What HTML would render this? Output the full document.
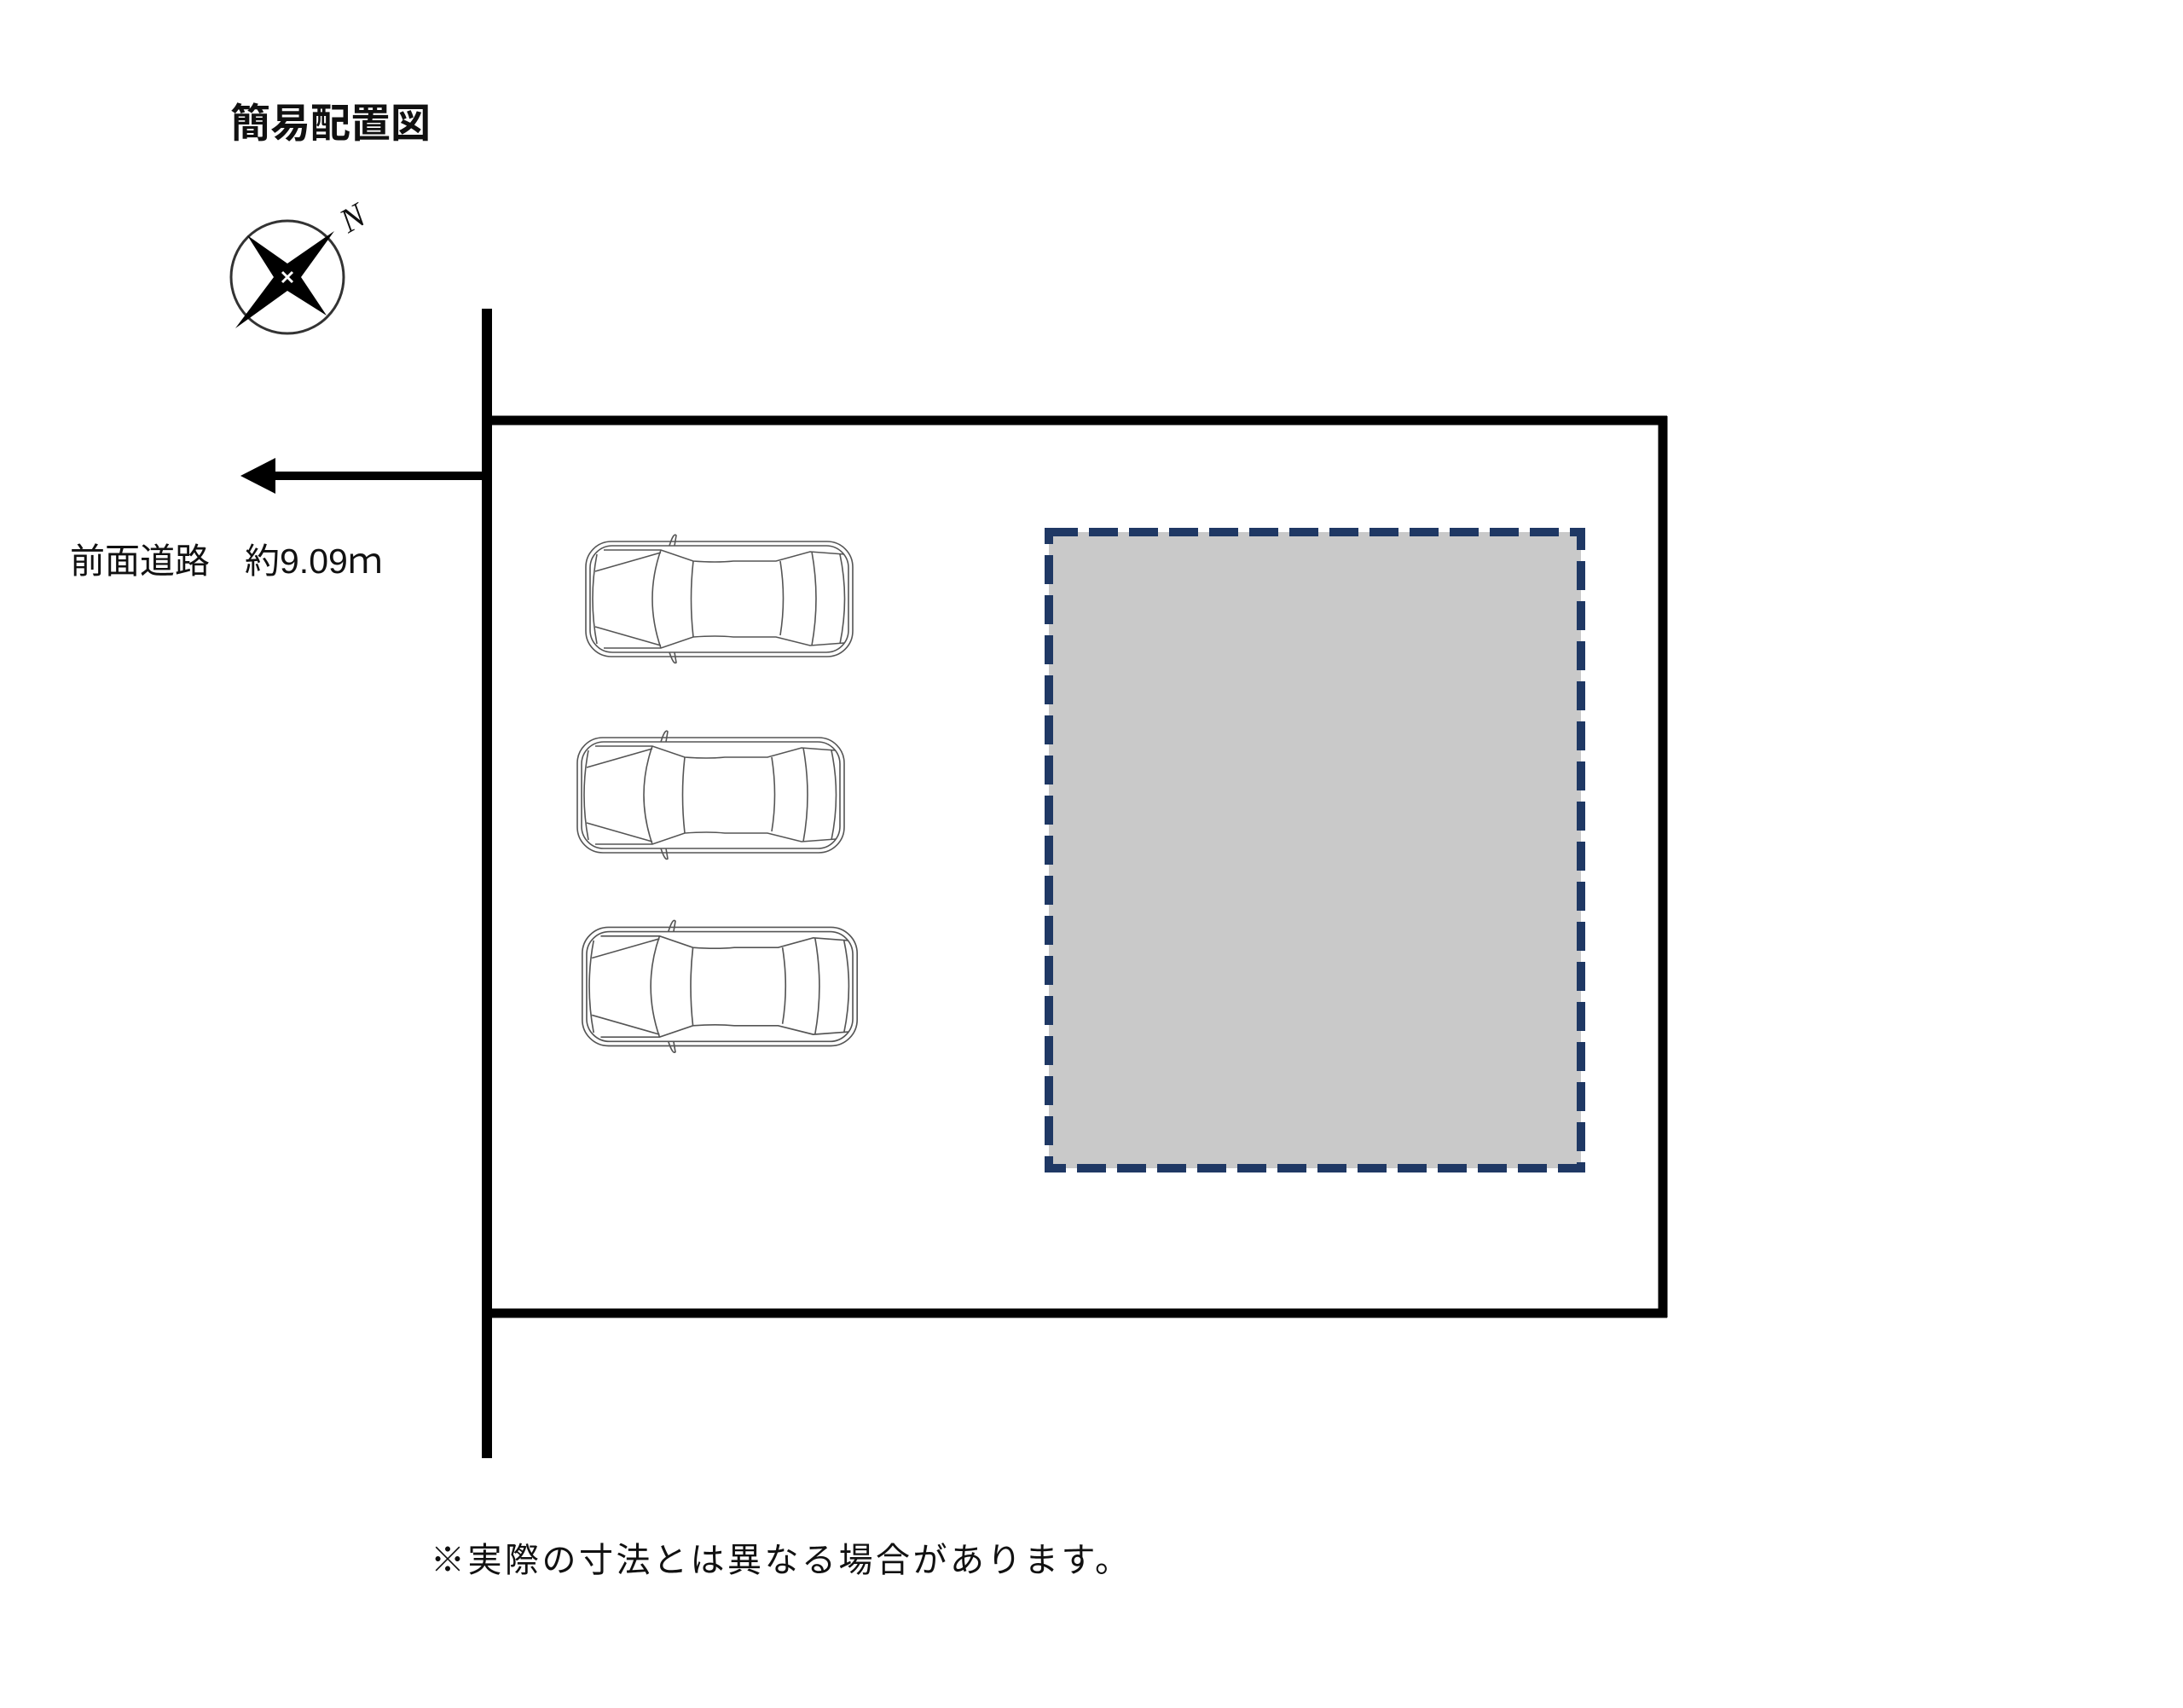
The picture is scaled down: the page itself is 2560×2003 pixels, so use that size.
<!DOCTYPE html>
<html><head><meta charset="utf-8"><style>
html,body{margin:0;padding:0;background:#fff;}
body{width:2560px;height:2003px;position:relative;overflow:hidden;font-family:"Liberation Sans","Noto Sans CJK JP",sans-serif;}
.t{position:absolute;white-space:nowrap;color:#111;}
</style></head><body>
<div class="t" style="left:270px;top:106px;font-size:47px;font-weight:bold;">簡易配置図</div>
<div class="t" style="left:82px;top:624px;font-size:41px;">前面道路　約9.09ｍ</div>
<div class="t" style="left:505px;top:1797px;font-size:40px;letter-spacing:3.5px;">※実際の寸法とは異なる場合があります。</div>
<svg width="2560" height="2003" style="position:absolute;left:0;top:0" xmlns="http://www.w3.org/2000/svg">
<defs>
<g id="car" fill="none" stroke="#555" stroke-width="1.6">
  <rect x="27" y="15" width="313" height="135" rx="30"/>
  <rect x="32" y="20" width="303" height="125" rx="26"/>
  <path d="M125 20 Q130 4 133 8 L131 20 M125 145 Q130 160 133 157 L131 145"/>
  <path d="M48 25 L115 25 L153 38 Q180 40 200 38 L250 38 L290 27 L330 30"/>
  <path d="M48 140 L115 140 L153 127 Q180 125 200 127 L250 127 L290 137 L330 134"/>
  <path d="M38 50 L115 28 M38 115 L115 137"/>
  <path d="M115 25 Q95 82 115 140"/>
  <path d="M153 38 Q148 82 153 127"/>
  <path d="M255 38 Q262 82 255 125"/>
  <path d="M292 27 Q302 82 292 137"/>
  <path d="M40 30 Q30 82 40 135"/>
  <path d="M325 30 Q336 82 325 135"/>
</g>
</defs>
<circle cx="337" cy="325" r="66" fill="none" stroke="#333" stroke-width="3"/>
<polygon points="392,271 353,325 383,370 337,341 276,385 321,325 290,276 337,309" fill="#000"/>
<path d="M331 319 L343 331 M343 319 L331 331" stroke="#fff" stroke-width="3"/>
<text x="400" y="268" font-family="Liberation Serif,serif" font-style="italic" font-size="40" transform="rotate(-30 415 255)" fill="#111">N</text>
<line x1="571" y1="362" x2="571" y2="1710" stroke="#000" stroke-width="12"/>
<line x1="571" y1="493" x2="1955" y2="493" stroke="#000" stroke-width="11"/>
<line x1="1950" y1="488" x2="1950" y2="1545" stroke="#000" stroke-width="11"/>
<line x1="571" y1="1540" x2="1955" y2="1540" stroke="#000" stroke-width="11"/>
<line x1="315" y1="558" x2="571" y2="558" stroke="#000" stroke-width="10"/>
<polygon points="282,558 323,537 323,579" fill="#000"/>
<rect x="1230" y="624" width="624" height="746" fill="#c9c9c9" stroke="#1f3864" stroke-width="10" stroke-dasharray="34 13"/>
<use href="#car" transform="translate(660,620)"/>
<use href="#car" transform="translate(650,850)"/>
<use href="#car" transform="translate(655,1072) scale(1.03,1.03)"/>
</svg>
</body></html>
